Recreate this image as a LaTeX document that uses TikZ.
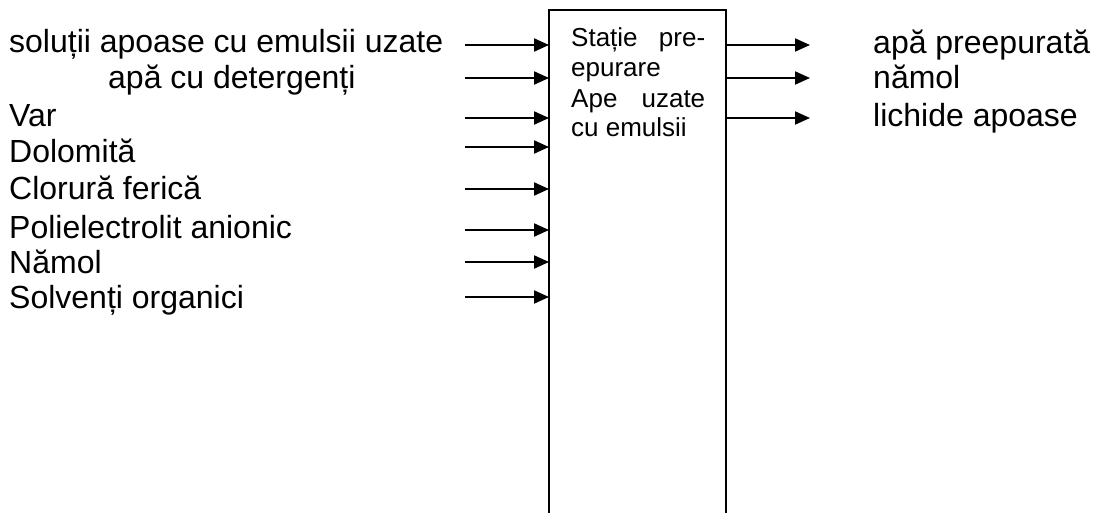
\documentclass[tikz,border=0pt]{standalone}
\usepackage{fontspec}
\setmainfont{Liberation Sans}
\usetikzlibrary{arrows.meta}
\begin{document}
\begin{tikzpicture}[x=1pt,y=-1pt,
  lbl/.style={anchor=base west, inner sep=0pt, font=\fontsize{32}{38}\selectfont},
  boxtxt/.style={anchor=base west, inner sep=0pt, font=\fontsize{26}{30}\selectfont},
  arr/.style={line width=2pt, -{Triangle[length=15pt,width=13pt]}},
  wall/.style={line width=2pt}]
\useasboundingbox (0,0) rectangle (1097,513);

% the station: an open-bottomed box
\node[minimum width=177pt, minimum height=520pt, anchor=north west, inner sep=0pt] (st) at (549,10) {};
\draw[wall] (st.south west) -- (st.north west) -- (st.north east) -- (st.south east);

% station title
\node[boxtxt] (t1) at (571,47) {\makebox[134pt][s]{Stație pre-}};
\node[boxtxt] (t2) at (571,77) {epurare};
\node[boxtxt] (t3) at (571,108) {\makebox[134pt][s]{Ape uzate}};
\node[boxtxt] (t4) at (571,137) {cu emulsii};

% inputs
\node[lbl] (in1) at (9,53) {soluții apoase cu emulsii uzate};
\node[lbl] (in2) at (108,89) {apă cu detergenți};
\node[lbl] (in3) at (9,127) {Var};
\node[lbl] (in4) at (9,163) {Dolomită};
\node[lbl] (in5) at (9,200) {Clorură ferică};
\node[lbl] (in6) at (9,238) {Polielectrolit anionic};
\node[lbl] (in7) at (9,273) {Nămol};
\node[lbl] (in8) at (9,308) {Solvenți organici};

\coordinate (a1) at (465,45);
\coordinate (a2) at (465,78);
\coordinate (a3) at (465,118);
\coordinate (a4) at (465,147);
\coordinate (a5) at (465,189);
\coordinate (a6) at (465,230);
\coordinate (a7) at (465,262);
\coordinate (a8) at (465,297);
\foreach \i in {1,...,8}
  \draw[arr] (a\i) -- (a\i -| st.west);

% outputs
\coordinate (b1) at (810,45);
\coordinate (b2) at (810,78);
\coordinate (b3) at (810,118);
\foreach \i in {1,2,3}
  \draw[arr] (b\i -| st.east) -- (b\i);

\node[lbl] (out1) at (873,54) {apă preepurată};
\node[lbl] (out2) at (873,89) {nămol};
\node[lbl] (out3) at (873,127) {lichide apoase};
\end{tikzpicture}
\end{document}
